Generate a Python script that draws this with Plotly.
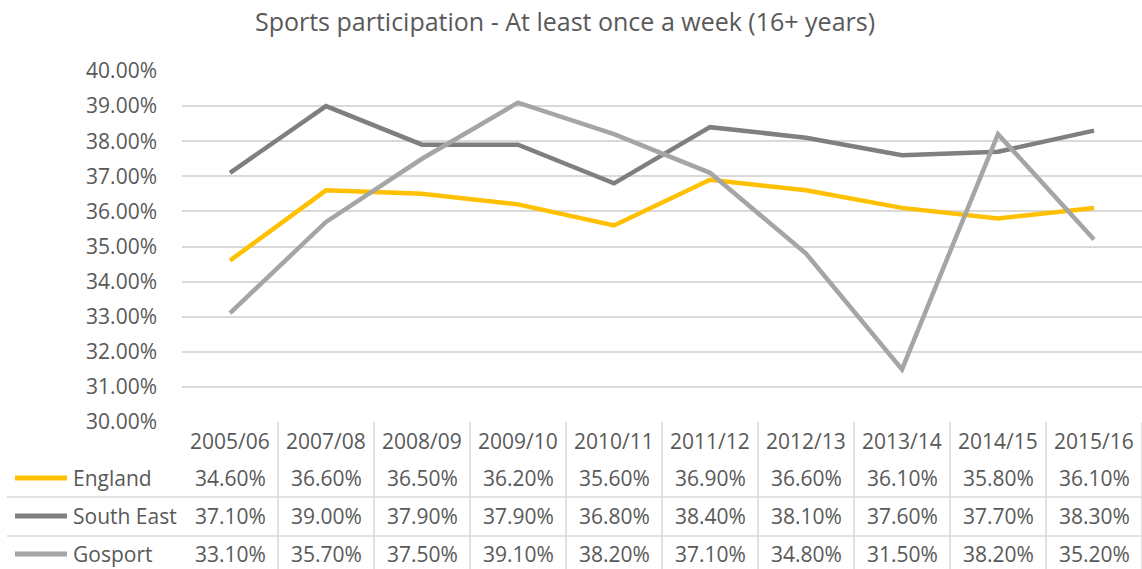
import plotly.graph_objects as go

categories = ["2005/06", "2007/08", "2008/09", "2009/10", "2010/11",
              "2011/12", "2012/13", "2013/14", "2014/15", "2015/16"]
england = [34.6, 36.6, 36.5, 36.2, 35.6, 36.9, 36.6, 36.1, 35.8, 36.1]
south_east = [37.1, 39.0, 37.9, 37.9, 36.8, 38.4, 38.1, 37.6, 37.7, 38.3]
gosport = [33.1, 35.7, 37.5, 39.1, 38.2, 37.1, 34.8, 31.5, 38.2, 35.2]
series_names = ["England", "South East", "Gosport"]
series_values = [england, south_east, gosport]
series_colors = ["#FFC000", "#7F7F7F", "#A5A5A5"]
y_ticks = [30, 31, 32, 33, 34, 35, 36, 37, 38, 39, 40]

W, H = 1142, 569
L, R, T, B = 182, 0, 71, 147
PW = W - L - R
PH = H - T - B
FONT = "Open Sans"
TXT = "#595959"
GRID = "#D9D9D9"
FS = 21

xs = list(range(len(categories)))

fig = go.Figure()
for name, vals, col in zip(series_names, series_values, series_colors):
    fig.add_trace(go.Scatter(
        x=xs, y=[v / 100 for v in vals], mode="lines", name=name,
        line=dict(color=col, width=4.5), showlegend=False, hoverinfo="skip"))

def py(pix_y):
    # absolute pixel y (from top) -> paper y
    return (H - B - pix_y) / PH

def px(pix_x):
    return (pix_x - L) / PW

shapes = []
annotations = []
table_bottom = py(H + 2)

# vertical separators between columns
for i in range(len(categories)):
    shapes.append(dict(type="line", xref="x", yref="paper",
                       x0=i + 0.5, x1=i + 0.5, y0=0, y1=table_bottom,
                       line=dict(color=GRID, width=1.5)))
# horizontal row separators
for ypix in [497, 536]:
    yy = py(ypix)
    shapes.append(dict(type="line", xref="paper", yref="paper",
                       x0=px(7), x1=1, y0=yy, y1=yy,
                       line=dict(color=GRID, width=1.5)))

# header row
header_y = py(441)
for i, c in enumerate(categories):
    annotations.append(dict(x=i, y=header_y, xref="x", yref="paper",
                            text=c, showarrow=False, xanchor="center",
                            yanchor="middle",
                            font=dict(family=FONT, size=FS, color=TXT)))

row_pix = [478, 516, 554]
for name, vals, col, rp in zip(series_names, series_values, series_colors, row_pix):
    yy = py(rp)
    for i, v in enumerate(vals):
        annotations.append(dict(x=i, y=yy, xref="x", yref="paper",
                                text=f"{v:.2f}%", showarrow=False,
                                xanchor="center", yanchor="middle",
                                font=dict(family=FONT, size=FS, color=TXT)))
    annotations.append(dict(x=px(71), y=yy, xref="paper", yref="paper",
                            text=name, showarrow=False, xanchor="left",
                            yanchor="middle",
                            font=dict(family=FONT, size=FS, color=TXT)))
    shapes.append(dict(type="line", xref="paper", yref="paper",
                       x0=px(15), x1=px(67), y0=yy, y1=yy,
                       line=dict(color=col, width=5)))

fig.update_layout(
    width=W, height=H,
    margin=dict(l=L, r=R, t=T, b=B, pad=0),
    paper_bgcolor="white", plot_bgcolor="white",
    title=dict(text="Sports participation - At least once a week (16+ years)",
               x=565 / W, xanchor="center", y=1 - 22 / H, yanchor="middle",
               font=dict(family=FONT, size=25, color=TXT)),
    font=dict(family=FONT, size=FS, color=TXT),
    xaxis=dict(range=[-0.5, len(categories) - 0.5], showticklabels=False,
               showgrid=False, zeroline=False, showline=False, ticks=""),
    yaxis=dict(range=[0.30, 0.40], tickvals=[t / 100 for t in y_ticks],
               tickformat=".2%", showgrid=True, gridcolor=GRID, gridwidth=1.5,
               zeroline=False, showline=False, ticks="",
               ticklabelstandoff=24,
               tickfont=dict(family=FONT, size=FS, color=TXT)),
    shapes=shapes, annotations=annotations,
)

fig.write_html("out.html", config={"displayModeBar": False},
               post_script="document.body.style.margin='0';document.body.style.overflow='hidden';")
